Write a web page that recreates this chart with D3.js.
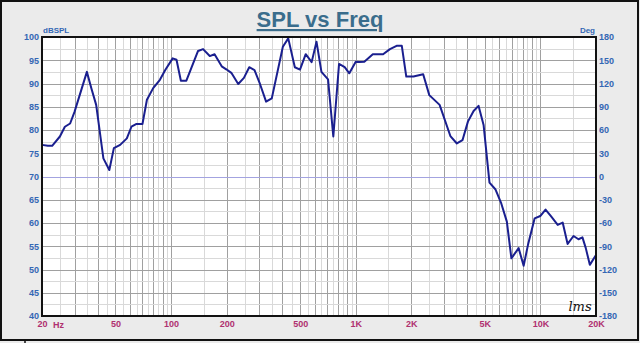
<!DOCTYPE html>
<html>
<head>
<meta charset="utf-8">
<script src="https://cdn.jsdelivr.net/npm/d3@7/dist/d3.min.js"></script>
<style>
  html, body { margin: 0; padding: 0; background: #ebebeb; }
  svg { display: block; }
</style>
</head>
<body>
<svg id="chart" width="640" height="343"></svg>
<script>
// Measured SPL response (frequency in Hz, level in dB SPL)
const freqHz = [20, 21.5, 22.7, 25, 26.6, 28.4, 30, 32, 35, 37, 39.3, 43, 46.3, 49, 53, 57.6, 61, 65, 70, 74,
  80, 87, 93, 102, 107, 113, 121, 140, 149, 162, 172, 188, 200, 212, 231, 248, 265, 283, 303, 327,
  351, 403, 431, 468, 499, 536, 577, 613, 652, 708, 756, 812, 871, 923, 1000, 1045, 1113, 1237, 1406, 1532,
  1664, 1776, 1878, 2054, 2318, 2502, 2846, 3254, 3529, 3784, 4050, 4347, 4623, 4924, 5300, 5716, 6139, 6580, 6965, 7622,
  8113, 8565, 9309, 9980, 10660, 11430, 12410, 13200, 14040, 15110, 16080, 16890, 17610, 18520, 20000];
const splDb = [76.8, 76.6, 76.6, 78.6, 80.7, 81.4, 83.9, 87.5, 92.5, 89, 85.4, 73.9, 71.4, 76.1, 76.8, 78.2, 80.7, 81.3, 81.3, 86.5,
  89, 90.8, 92.9, 95.4, 95.1, 90.6, 90.6, 97, 97.4, 95.9, 96.3, 93.7, 93, 92.3, 89.9, 91.2, 93.5, 92.9, 89.9, 86.1,
  86.8, 97.9, 99.7, 93.5, 93.0, 96.3, 94.6, 99, 92.5, 90.9, 78.6, 94.2, 93.5, 92.2, 94.7, 94.6, 94.7, 96.3, 96.3, 97.4,
  98.1, 98.1, 91.5, 91.5, 92, 87.5, 85.4, 78.7, 77.1, 77.8, 81.8, 84.1, 85.2, 81.1, 68.7, 67.2, 64.2, 60.3, 52.4, 54.6,
  50.8, 55.3, 61, 61.5, 62.9, 61.4, 59.6, 60.1, 55.5, 57.2, 56.5, 56.9, 54.6, 51, 53.1];

// Axis ticks
const freqTicks = [20, 50, 100, 200, 500, 1000, 2000, 5000, 10000, 20000];
const freqTickLabels = ["20", "50", "100", "200", "500", "1K", "2K", "5K", "10K", "20K"];
const dbTicks = [40, 45, 50, 55, 60, 65, 70, 75, 80, 85, 90, 95, 100];
const degTicks = [-180, -150, -120, -90, -60, -30, 0, 30, 60, 90, 120, 150, 180];

const W = 640, H = 343;
const plot = { left: 42, right: 596, top: 37, bottom: 316 };

const svg = d3.select("#chart");

// Window background and frame
svg.append("rect").attr("x", 0).attr("y", 0).attr("width", W).attr("height", H).attr("fill", "#ebebeb");
svg.append("rect").attr("x", 1).attr("y", 1).attr("width", W - 3).attr("height", 339)
  .attr("fill", "none").attr("stroke", "#111").attr("stroke-width", 2);
svg.append("line").attr("x1", 25).attr("x2", 25).attr("y1", 340).attr("y2", H)
  .attr("stroke", "#111").attr("stroke-width", 1.5);

const x = d3.scaleLog().domain([20, 20000]).range([plot.left, plot.right]);
const y = d3.scaleLinear().domain([40, 100]).range([plot.bottom, plot.top]);
const yDeg = d3.scaleLinear().domain([-180, 180]).range([plot.bottom, plot.top]);

// Plot area
svg.append("rect").attr("x", plot.left).attr("y", plot.top)
  .attr("width", plot.right - plot.left).attr("height", plot.bottom - plot.top).attr("fill", "#fff");

const grid = svg.append("g");

// Vertical grid: integer multiples dark, half multiples light
const minorF = [], majorF = [];
for (let dec = 10; dec <= 10000; dec *= 10) {
  for (let m = 1; m < 10; m++) {
    const f = m * dec, fh = (m + 0.5) * dec;
    if (f > 20 && f < 20000) majorF.push(f);
    if (fh > 20 && fh < 20000) minorF.push(fh);
  }
}
grid.selectAll(".vminor").data(minorF).join("line")
  .attr("x1", d => Math.round(x(d)) + 0.5).attr("x2", d => Math.round(x(d)) + 0.5)
  .attr("y1", plot.top).attr("y2", plot.bottom)
  .attr("stroke", "#d9d9d9").attr("stroke-width", 1);
grid.selectAll(".vmajor").data(majorF).join("line")
  .attr("x1", d => Math.round(x(d)) + 0.5).attr("x2", d => Math.round(x(d)) + 0.5)
  .attr("y1", plot.top).attr("y2", plot.bottom)
  .attr("stroke", "#a0a0a0").attr("stroke-width", 1);

// Horizontal grid: 5 dB dark, 2.5 dB light
const hMinor = d3.range(42.5, 100, 5);
grid.selectAll(".hminor").data(hMinor).join("line")
  .attr("x1", plot.left).attr("x2", plot.right)
  .attr("y1", d => Math.round(y(d)) + 0.5).attr("y2", d => Math.round(y(d)) + 0.5)
  .attr("stroke", "#d9d9d9").attr("stroke-width", 1);
grid.selectAll(".hmajor").data(dbTicks.filter(d => d > 40 && d < 100 && d !== 70)).join("line")
  .attr("x1", plot.left).attr("x2", plot.right)
  .attr("y1", d => Math.round(y(d)) + 0.5).attr("y2", d => Math.round(y(d)) + 0.5)
  .attr("stroke", "#a0a0a0").attr("stroke-width", 1);
// Phase zero reference line
grid.append("line")
  .attr("x1", plot.left).attr("x2", plot.right)
  .attr("y1", Math.round(yDeg(0)) + 0.5).attr("y2", Math.round(yDeg(0)) + 0.5)
  .attr("stroke", "#a3a3e0").attr("stroke-width", 1.2);

// SPL curve
const line = d3.line().x((d, i) => x(freqHz[i])).y(d => y(d));
svg.append("path").datum(splDb)
  .attr("d", line)
  .attr("fill", "none").attr("stroke", "#1a1f8f").attr("stroke-width", 2)
  .attr("stroke-linejoin", "round");

// Plot border
svg.append("rect").attr("x", plot.left).attr("y", plot.top)
  .attr("width", plot.right - plot.left).attr("height", plot.bottom - plot.top)
  .attr("fill", "none").attr("stroke", "#111").attr("stroke-width", 2);

const font = "'Liberation Sans', Arial, sans-serif";

// Left axis (dB SPL)
const axL = svg.append("g").attr("transform", `translate(${plot.left - 2},0)`)
  .call(d3.axisLeft(y).tickValues(dbTicks).tickSize(0).tickPadding(1).tickFormat(d => String(d)));
axL.select(".domain").remove();
axL.selectAll("text").attr("fill", "#3467b4").style("font", `bold 9px ${font}`);

// Right axis (phase degrees)
const axR = svg.append("g").attr("transform", `translate(${plot.right + 2},0)`)
  .call(d3.axisRight(yDeg).tickValues(degTicks).tickSize(0).tickPadding(1).tickFormat(d => String(d)));
axR.select(".domain").remove();
axR.selectAll("text").attr("fill", "#3467b4").style("font", `bold 9px ${font}`);

// Bottom axis (frequency)
const axB = svg.append("g").attr("transform", `translate(0,${plot.bottom + 3})`)
  .call(d3.axisBottom(x).tickValues(freqTicks).tickSize(0).tickPadding(2)
    .tickFormat((d, i) => freqTickLabels[i]));
axB.select(".domain").remove();
axB.selectAll("text").attr("fill", "#b03070").style("font", `bold 9px ${font}`);
svg.append("text").attr("x", 53).attr("y", plot.bottom + 12)
  .attr("fill", "#b03070").style("font", `bold 9px ${font}`).text("Hz");

// Units
svg.append("text").attr("x", plot.left + 1).attr("y", plot.top - 4)
  .attr("fill", "#3467b4").style("font", `bold 8px ${font}`).text("dBSPL");
svg.append("text").attr("x", plot.right - 1).attr("y", plot.top - 4).attr("text-anchor", "end")
  .attr("fill", "#3467b4").style("font", `bold 8px ${font}`).text("Deg");

// Title
svg.append("text").attr("x", 320).attr("y", 27).attr("text-anchor", "middle")
  .attr("fill", "#3a6d8c").style("font", `bold 22px ${font}`)
  .style("text-decoration", "underline").text("SPL vs Freq");

// Logo
svg.append("text").attr("x", 580).attr("y", 311).attr("text-anchor", "middle")
  .attr("fill", "#111").style("font", "italic 13px 'DejaVu Serif', serif")
  .text("lms");
</script>
</body>
</html>
